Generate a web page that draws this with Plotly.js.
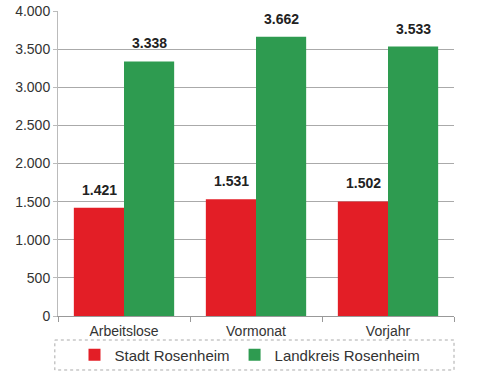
<!DOCTYPE html>
<html><head><meta charset="utf-8">
<script src="https://cdn.plot.ly/plotly-3.0.1.min.js"></script>
<style>html,body{margin:0;padding:0;background:#fff}</style>
</head><body>
<div id="chart" style="width:500px;height:374px"></div>
<script>
const categories = ["Arbeitslose", "Vormonat", "Vorjahr"];
const stadt = [1421, 1531, 1502];
const landkreis = [3338, 3662, 3533];
const seriesNames = ["Stadt Rosenheim", "Landkreis Rosenheim"];
const yTicks = [0, 500, 1000, 1500, 2000, 2500, 3000, 3500, 4000];

const red = "#E31E26", green = "#2E9B50";
const font = "Liberation Sans, Arial, sans-serif";

const traces = [
  {type: "bar", name: seriesNames[0], x: categories, y: stadt, marker: {color: red}, hoverinfo: "none"},
  {type: "bar", name: seriesNames[1], x: categories, y: landkreis, marker: {color: green}, hoverinfo: "none"}
];

const fmt = v => v.toLocaleString("de-DE");
const annotations = [];
categories.forEach((c, i) => {
  annotations.push({x: c, y: stadt[i], text: "<b>" + fmt(stadt[i]) + "</b>", showarrow: false, xshift: -25, yanchor: "bottom", yshift: 8, font: {family: font, size: 14, color: "#222"}});
  annotations.push({x: c, y: landkreis[i], text: "<b>" + fmt(landkreis[i]) + "</b>", showarrow: false, xshift: 25, yanchor: "bottom", yshift: 8, font: {family: font, size: 14, color: "#222"}});
});

const layout = {
  width: 500, height: 374,
  margin: {l: 58, r: 46, t: 11, b: 58},
  paper_bgcolor: "#fff", plot_bgcolor: "#fff",
  separators: ",.",
  font: {family: font, size: 14, color: "#333"},
  barmode: "group", bargap: 0.24, bargroupgap: 0,
  xaxis: {type: "category", showline: true, linecolor: "#999", ticks: "outside", tickson: "boundaries", ticklen: 5, tickcolor: "#999", showgrid: false, tickfont: {size: 14, color: "#333"}, ticklabelstandoff: 2, automargin: false},
  yaxis: {range: [0, 4000], tickvals: yTicks, tickformat: ",d", showgrid: true, gridcolor: "#aaa", gridwidth: 1, showline: true, linecolor: "#bbb", ticks: "outside", ticklen: 4, tickcolor: "#bbb", zeroline: false, tickfont: {size: 14, color: "#333"}, automargin: false},
  showlegend: true,
  legend: {orientation: "h", xref: "container", yref: "container", x: 0.5, xanchor: "center", y: 19 / 374, yanchor: "middle", font: {size: 15, color: "#333"}, bgcolor: "rgba(0,0,0,0)", itemwidth: 30, tracegroupgap: 0},
  shapes: [{type: "rect", xref: "paper", yref: "paper", x0: -0.008, x1: 1.0, y0: -0.0787, y1: -0.177, line: {color: "#aaa", width: 1, dash: "dot"}}],
  annotations: annotations
};

Plotly.newPlot("chart", traces, layout, {staticPlot: true, displayModeBar: false});
</script>
</body></html>
